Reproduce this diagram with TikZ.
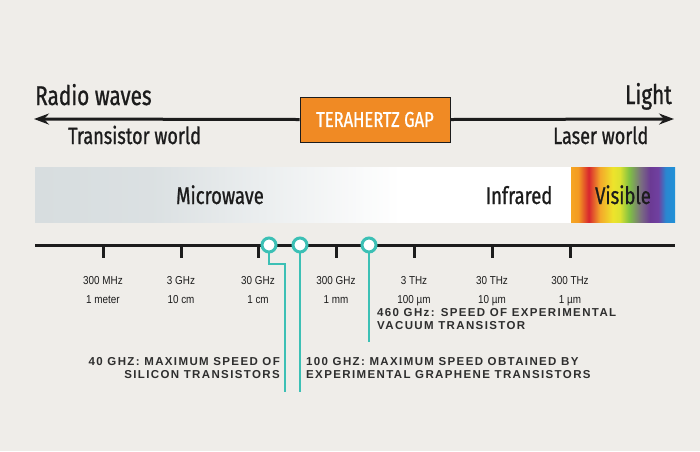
\documentclass[tikz,border=0pt]{standalone}
\usepackage{fontspec}
\setmainfont{Liberation Sans}
\newfontfamily\condfont[FakeStretch=0.77,FakeBold=0.9]{Fira Sans}
\newfontfamily\tickfont[FakeStretch=0.86]{Liberation Sans}
\newfontfamily\notefont[LetterSpace=12]{Liberation Sans Bold}
\usetikzlibrary{arrows.meta}
\definecolor{bg}{HTML}{EFEDE9}
\definecolor{bandgrey}{HTML}{D7DDDF}
\definecolor{gaporange}{HTML}{F08A24}
\definecolor{tealc}{HTML}{3CC0B5}
\definecolor{ink}{HTML}{1C1C1C}
\definecolor{noteink}{HTML}{2E2E2E}
\definecolor{rbA}{HTML}{F6A623}
\definecolor{rbB}{HTML}{F39A22}
\definecolor{rbC}{HTML}{D8262E}
\definecolor{rbD}{HTML}{F4A82A}
\definecolor{rbE}{HTML}{EEE32B}
\definecolor{rbF}{HTML}{DCE230}
\definecolor{rbG}{HTML}{7FC143}
\definecolor{rbH}{HTML}{7A6E80}
\definecolor{rbI}{HTML}{6B3A94}
\definecolor{rbJ}{HTML}{7040A0}
\definecolor{rbK}{HTML}{2A86D0}
\definecolor{rbL}{HTML}{2092D8}
% TikZ maps the path box onto 25bp..75bp of the shading
\pgfdeclarehorizontalshading{bandshade}{100bp}{color(0bp)=(bandgrey); color(25bp)=(bandgrey); color(36bp)=(bandgrey!90!white); color(50bp)=(bandgrey!35!white); color(59bp)=(white); color(100bp)=(white)}
\pgfdeclarehorizontalshading{rainbowshade}{100bp}{color(0bp)=(rbA); color(25bp)=(rbA); color(28.5bp)=(rbB); color(33.5bp)=(rbC); color(39bp)=(rbD); color(45bp)=(rbE); color(48.5bp)=(rbF); color(53bp)=(rbG); color(58.5bp)=(rbH); color(63bp)=(rbI); color(67bp)=(rbJ); color(70.5bp)=(rbK); color(75bp)=(rbL); color(100bp)=(rbL)}
\tikzset{
  big/.style={font=\condfont\fontsize{27}{27}\selectfont, text=ink, inner sep=0pt},
  mid/.style={font=\condfont\fontsize{23.5}{23.5}\selectfont, text=ink, inner sep=0pt},
  bandlbl/.style={font=\condfont\fontsize{24}{24}\selectfont, text=ink, inner sep=0pt},
  ticklbl/.style={font=\tickfont\fontsize{11.5}{11.5}\selectfont, text=ink, inner sep=0pt, anchor=base},
  notelbl/.style={font=\notefont\fontsize{11.5}{13}\selectfont, text=noteink, inner sep=0pt},
  gapbox/.style={fill=gaporange, draw=ink, line width=1pt, minimum width=150pt, minimum height=45pt, inner sep=0pt, font=\condfont\fontsize{21.5}{21.5}\selectfont, text=white},
  mainarrow/.style={line width=3pt, draw=ink, -{Stealth[length=15pt,width=11pt,inset=5pt]}},
  axisline/.style={line width=3pt, draw=ink},
  tickmark/.style={line width=3pt, draw=ink},
  marker/.style={circle, draw=tealc, fill=white, line width=3pt, minimum size=14pt, inner sep=0pt},
  leader/.style={draw=tealc, line width=2.5pt}
}
\begin{document}
\begin{tikzpicture}[x=1pt,y=-1pt]
\fill[bg] (0,0) rectangle (700,451);
\useasboundingbox (0,0) rectangle (700,451);

% top arrows and box
\node[gapbox] (tg) at (375,119.5) {TERAHERTZ GAP};
\coordinate (leftend) at (34,119);
\coordinate (rightend) at (674,119);
\draw[mainarrow] (tg.west) -- (leftend);
\draw[mainarrow] (tg.east) -- (rightend);
\node[big, anchor=base west] (radio) at (35,105) {Radio waves};
\node[big, anchor=base east] (light) at (672,104) {Light};
\node[mid, anchor=base west] (tworld) at (68,144) {Transistor world};
\node[mid, anchor=base west] (lworld) at (553,144) {Laser world};

% spectrum band
\shade[shading=bandshade] (35,167) rectangle (572,222);
\shade[shading=rainbowshade] (571,167) rectangle (675,222);
\node[bandlbl, anchor=base] (micro) at (220,204) {Microwave};
\node[bandlbl, anchor=base] (infra) at (519,204) {Infrared};
\node[bandlbl, anchor=base] (vis) at (623,204) {Visible};

% axis
\coordinate (axL) at (35,245);
\coordinate (axR) at (675,245);
\draw[axisline] (axL) -- (axR);
\foreach \x/\f/\w [count=\i] in {103/300 MHz/1 meter, 181/3 GHz/10 cm, 258/30 GHz/1 cm, 336/300 GHz/1 mm, 414/3 THz/100 µm, 492/30 THz/10 µm, 570/300 THz/1 µm}{
  \coordinate (t\i) at (\x,245);
  \draw[tickmark] (t\i) -- ++(0,13);
  \node[ticklbl] (f\i) at (\x,284) {\f};
  \node[ticklbl] (w\i) at (\x,303) {\w};
}

% leaders
\coordinate (m1) at (269,245);
\coordinate (m2) at (300,245);
\coordinate (m3) at (369,245);
\coordinate (k1) at (269,264);
\coordinate (k2) at (285,264);
\coordinate (e1) at (285,392);
\coordinate (e2) at (300,392);
\coordinate (e3) at (369,342);
\draw[leader] (m1) -- (k1) -- (k2) -- (e1);
\draw[leader] (m2) -- (e2);
\draw[leader] (m3) -- (e3);
\node[marker] (c1) at (m1) {};
\node[marker] (c2) at (m2) {};
\node[marker] (c3) at (m3) {};

% notes
\node[notelbl, anchor=base east, align=right] (n1) at (280,378) {40 GHZ: MAXIMUM SPEED OF\\SILICON TRANSISTORS};
\node[notelbl, anchor=base west, align=left] (n2) at (306,378) {100 GHZ: MAXIMUM SPEED OBTAINED BY\\EXPERIMENTAL GRAPHENE TRANSISTORS};
\node[notelbl, anchor=base west, align=left] (n3) at (377,329) {460 GHz: SPEED OF EXPERIMENTAL\\VACUUM TRANSISTOR};
\end{tikzpicture}
\end{document}
